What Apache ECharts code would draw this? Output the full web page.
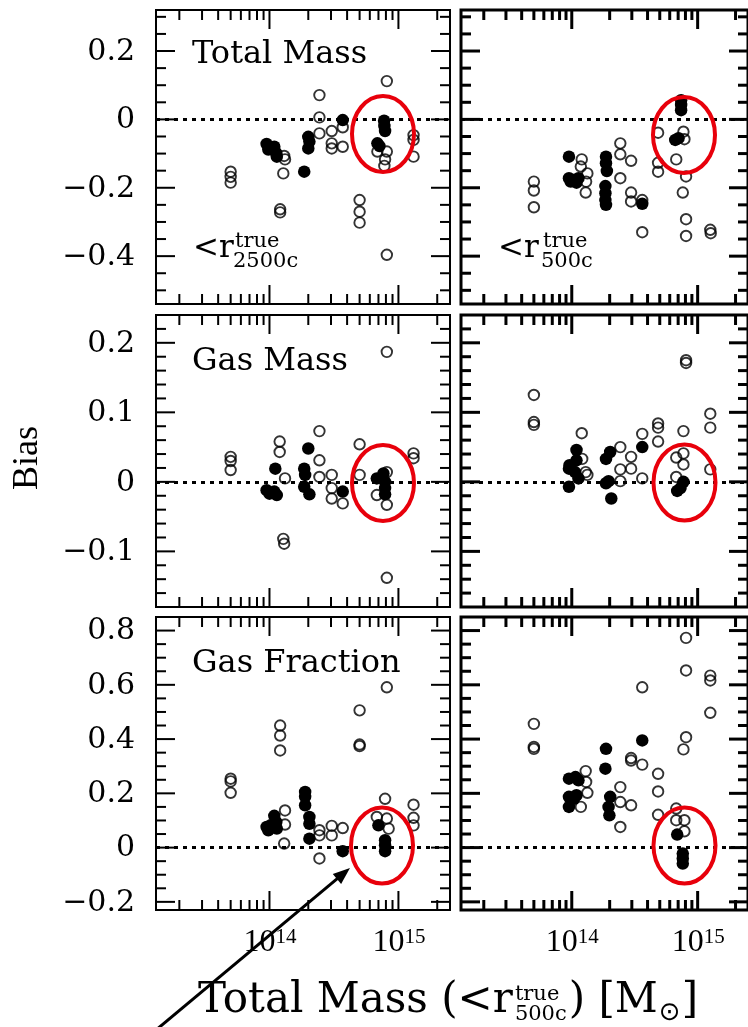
<!DOCTYPE html>
<html><head><meta charset="utf-8">
<script src="https://cdn.jsdelivr.net/npm/echarts/dist/echarts.min.js"></script>
<style>html,body{margin:0;padding:0;background:#fff}#c{width:748px;height:1027px}</style>
</head><body><div id="c"></div>
<script>
// ---------------- DATA (mass [Msun], bias) ----------------
// Total mass bias, < r2500c
const tmInnerOpen = [
  [5.0e13,-0.153],[5.0e13,-0.168],[5.0e13,-0.185],
  [1.30e14,-0.107],[1.32e14,-0.117],[1.28e14,-0.158],
  [1.21e14,-0.263],[1.21e14,-0.272],
  [2.44e14,0.071],[2.44e14,0.006],[2.44e14,-0.041],
  [3.04e14,-0.034],[3.04e14,-0.070],[3.04e14,-0.085],
  [3.70e14,-0.023],[3.70e14,-0.080],
  [5.0e14,-0.236],[5.0e14,-0.270],[5.0e14,-0.302],
  [8.13e14,0.112],[6.87e14,-0.094],[8.13e14,-0.094],[7.88e14,-0.117],[7.78e14,-0.136],[8.13e14,-0.396],
  [1.31e15,-0.046],[1.31e15,-0.060],[1.31e15,-0.109]
];
const tmInnerFilled = [
  [9.5e13,-0.072],[9.8e13,-0.088],[1.09e14,-0.080],[1.13e14,-0.099],[1.14e14,-0.109],
  [1.86e14,-0.153],[2.0e14,-0.051],[2.04e14,-0.065],[2.0e14,-0.085],
  [3.70e14,-0.002],
  [7.74e14,-0.004],[7.78e14,-0.019],[7.88e14,-0.034],[6.87e14,-0.070],[7.13e14,-0.078]
];
// Total mass bias, < r500c
const tmOuterOpen = [
  [5.0e13,-0.182],[5.0e13,-0.208],[5.0e13,-0.257],
  [1.20e14,-0.117],[1.18e14,-0.138],[1.33e14,-0.158],[1.30e14,-0.182],[1.29e14,-0.214],
  [2.43e14,-0.070],[2.43e14,-0.102],[2.43e14,-0.172],[2.96e14,-0.121],[2.96e14,-0.214],[2.96e14,-0.240],
  [3.63e14,-0.236],[3.63e14,-0.330],
  [4.85e14,-0.039],[4.85e14,-0.127],[4.85e14,-0.153],
  [7.71e14,-0.036],[7.85e14,-0.058],[6.76e14,-0.117],[8.09e14,-0.167],[7.62e14,-0.214],[8.09e14,-0.292],[8.09e14,-0.341],
  [1.26e15,-0.323],[1.27e15,-0.333]
];
const tmOuterFilled = [
  [9.5e13,-0.109],[9.5e13,-0.172],[9.8e13,-0.182],[1.04e14,-0.177],[1.09e14,-0.185],[1.13e14,-0.172],
  [1.87e14,-0.109],[1.87e14,-0.128],[1.90e14,-0.151],[1.85e14,-0.195],[1.85e14,-0.216],[1.85e14,-0.236],[1.87e14,-0.250],
  [3.63e14,-0.247],
  [7.39e14,0.056],[7.39e14,0.042],[7.39e14,0.027],[6.64e14,-0.060],[7.05e14,-0.055]
];
// Gas mass bias, < r2500c
const gmInnerOpen = [
  [5.0e13,0.036],[5.0e13,0.030],[5.0e13,0.017],
  [1.20e14,0.058],[1.20e14,0.043],[1.32e14,0.005],[1.28e14,-0.082],[1.30e14,-0.089],
  [2.44e14,0.073],[2.44e14,0.031],[2.44e14,0.007],[3.04e14,0.010],[3.04e14,-0.009],[3.04e14,-0.024],[3.70e14,-0.031],
  [5.0e14,0.054],[5.0e14,0.010],
  [8.13e14,0.014],[6.8e14,-0.019],[8.13e14,-0.033],[8.13e14,0.187],[8.13e14,-0.138],
  [1.31e15,0.041],[1.31e15,0.034]
];
const gmInnerFilled = [
  [9.5e13,-0.012],[1.0e14,-0.017],[1.09e14,-0.014],[1.14e14,-0.019],[1.11e14,0.019],
  [2.0e14,0.048],[1.86e14,0.019],[1.89e14,0.010],[1.86e14,-0.007],[2.04e14,-0.018],
  [3.70e14,-0.014],
  [6.8e14,0.005],[7.65e14,0.012],[7.88e14,0.0],[7.88e14,-0.009],[7.88e14,-0.018]
];
// Gas mass bias, < r500c
const gmOuterOpen = [
  [5.0e13,0.125],[5.0e13,0.086],[5.0e13,0.082],
  [1.20e14,0.070],[1.21e14,0.033],[1.29e14,0.014],[1.33e14,0.010],
  [2.43e14,0.050],[2.43e14,0.018],[2.43e14,0.001],[2.96e14,0.036],[2.96e14,0.019],
  [3.63e14,0.069],[3.63e14,0.005],
  [4.85e14,0.084],[4.85e14,0.078],[4.85e14,0.058],
  [6.76e14,0.035],[7.71e14,0.041],[7.71e14,0.025],[6.76e14,0.007],[7.71e14,0.073],[8.09e14,0.175],[8.09e14,0.171],
  [1.26e15,0.098],[1.26e15,0.078],[1.26e15,0.018]
];
const gmOuterFilled = [
  [9.5e13,-0.007],[9.6e13,0.024],[9.5e13,0.019],[1.09e14,0.046],[1.06e14,0.014],[1.13e14,0.005],[1.09e14,0.031],
  [2.02e14,0.043],[1.87e14,0.033],[1.96e14,0.001],[1.87e14,-0.002],[2.06e14,-0.024],
  [3.63e14,0.050],
  [6.88e14,-0.013],[7.31e14,-0.009],[7.71e14,0.0]
];
// Gas fraction bias, < r2500c
const gfInnerOpen = [
  [5.0e13,0.254],[5.0e13,0.244],[5.0e13,0.202],
  [1.21e14,0.450],[1.21e14,0.413],[1.21e14,0.358],[1.32e14,0.137],[1.32e14,0.085],[1.30e14,0.015],
  [2.44e14,0.064],[2.44e14,0.045],[2.44e14,-0.040],[3.04e14,0.080],[3.04e14,0.045],[3.70e14,0.072],
  [5.0e14,0.506],[5.0e14,0.380],[5.0e14,0.374],
  [8.13e14,0.591],[7.88e14,0.180],[6.8e14,0.113],[8.13e14,0.107],[8.4e14,0.070],
  [1.31e15,0.158],[1.31e15,0.110],[1.31e15,0.082]
];
const gfInnerFilled = [
  [9.5e13,0.076],[1.02e14,0.082],[1.09e14,0.117],[1.13e14,0.094],[1.14e14,0.070],[9.8e13,0.064],
  [1.89e14,0.205],[1.89e14,0.187],[1.89e14,0.156],[2.04e14,0.113],[2.04e14,0.088],[2.04e14,0.033],
  [3.70e14,-0.013],
  [7.0e14,0.082],[7.88e14,0.027],[7.88e14,0.009],[7.88e14,-0.013]
];
// Gas fraction bias, < r500c
const gfOuterOpen = [
  [5.0e13,0.456],[5.0e13,0.371],[5.0e13,0.364],
  [1.29e14,0.282],[1.30e14,0.242],[1.33e14,0.202],[1.18e14,0.150],
  [2.43e14,0.223],[2.43e14,0.168],[2.43e14,0.076],[2.96e14,0.330],[2.96e14,0.321],[2.96e14,0.156],[3.63e14,0.306],
  [3.63e14,0.591],
  [4.85e14,0.272],[4.85e14,0.207],[4.85e14,0.121],
  [8.09e14,0.773],[8.09e14,0.653],[8.09e14,0.407],[7.71e14,0.362],[6.76e14,0.144],[6.76e14,0.101],[7.85e14,0.101],[7.85e14,0.060],
  [1.26e15,0.634],[1.26e15,0.616],[1.26e15,0.497]
];
const gfOuterFilled = [
  [9.5e13,0.254],[1.07e14,0.260],[1.13e14,0.248],[9.5e13,0.187],[1.09e14,0.193],[9.5e13,0.150],[1.04e14,0.180],
  [1.87e14,0.364],[1.85e14,0.291],[2.02e14,0.187],[1.96e14,0.150],[1.99e14,0.119],
  [3.63e14,0.395],
  [6.88e14,0.048],[7.62e14,-0.022],[7.62e14,-0.040],[7.62e14,-0.059]
];

// ---------------- TICKS & LABELS ----------------
const xMajorTicks = [1e14, 1e15];
const xMinorTicks = [2e13,3e13,4e13,5e13,6e13,7e13,8e13,9e13,2e14,3e14,4e14,5e14,6e14,7e14,8e14,9e14,2e15];
const xLabelExp = ['14', '15'];
const tmMajorY = [-0.4,-0.2,0,0.2];
const tmMinorY = [-0.5,-0.45,-0.35,-0.3,-0.25,-0.15,-0.1,-0.05,0.05,0.1,0.15,0.25,0.3];
const tmLabels = ['\u22120.4','\u22120.2','0','0.2'];
const gmMajorY = [-0.1,0,0.1,0.2];
const gmMinorY = [-0.16,-0.14,-0.12,-0.08,-0.06,-0.04,-0.02,0.02,0.04,0.06,0.08,0.12,0.14,0.16,0.18,0.22];
const gmLabels = ['\u22120.1','0','0.1','0.2'];
const gfMajorY = [-0.2,0,0.2,0.4,0.6,0.8];
const gfMinorY = [-0.15,-0.1,-0.05,0.05,0.1,0.15,0.25,0.3,0.35,0.45,0.5,0.55,0.65,0.7,0.75];
const gfLabels = ['\u22120.2','0','0.2','0.4','0.6','0.8'];
const panelTitles = ['Total Mass', 'Gas Mass', 'Gas Fraction'];

// ---------------- LAYOUT ----------------
const XMIN = Math.pow(10, 13.12), XMAX = Math.pow(10, 15.40);
const rows = [
  {min:-0.54, max:0.32, major:tmMajorY, minor:tmMinorY, labels:tmLabels, top:10, height:294},
  {min:-0.18, max:0.24, major:gmMajorY, minor:gmMinorY, labels:gmLabels, top:315, height:292},
  {min:-0.23, max:0.85, major:gfMajorY, minor:gfMinorY, labels:gfLabels, top:617, height:293}
];
const cols = [{left:156, width:294, lw:2}, {left:461, width:292, lw:3}];
const panels = [
  {open:tmInnerOpen, filled:tmInnerFilled}, {open:tmOuterOpen, filled:tmOuterFilled},
  {open:gmInnerOpen, filled:gmInnerFilled}, {open:gmOuterOpen, filled:gmOuterFilled},
  {open:gfInnerOpen, filled:gfInnerFilled}, {open:gfOuterOpen, filled:gfOuterFilled}
];

const grid = [], xAxis = [], yAxis = [], series = [];
panels.forEach((p, g) => {
  const r = Math.floor(g / 2), c = g % 2;
  const row = rows[r], col = cols[c];
  grid.push({left:col.left, top:row.top, width:col.width, height:row.height, show:true,
    borderColor:'#000', borderWidth:col.lw, backgroundColor:'transparent', containLabel:false});
  xAxis.push({type:'log', logBase:10, gridIndex:g, min:XMIN, max:XMAX, show:false});
  yAxis.push({type:'value', gridIndex:g, min:row.min, max:row.max, show:false});
  series.push({type:'scatter', xAxisIndex:g, yAxisIndex:g, data:p.open, symbol:'circle', symbolSize:10.5,
    itemStyle:{color:'rgba(255,255,255,0)', borderColor:'#000', borderWidth:1.9}, silent:true, z:3,
    markLine:{silent:true, symbol:['none','none'], label:{show:false}, animation:false,
      lineStyle:{color:'#000', type:[4,5], width:3}, data:[{yAxis:0}]}});
  series.push({type:'scatter', xAxisIndex:g, yAxisIndex:g, data:p.filled, symbol:'circle', symbolSize:12.5,
    itemStyle:{color:'#000', borderColor:'#000', borderWidth:0, opacity:1}, silent:true, z:4});
  // ticks + labels: [x, y, kind, labelIndex]
  const tickData = [];
  xMinorTicks.forEach(v => tickData.push([v, 0, 0, 0]));
  xMajorTicks.forEach(v => tickData.push([v, 0, 1, 0]));
  row.minor.forEach(v => tickData.push([1e14, v, 2, 0]));
  row.major.forEach(v => tickData.push([1e14, v, 3, 0]));
  if (c === 0) row.major.forEach((v, i) => tickData.push([1e14, v, 4, i]));
  if (r === 2) xMajorTicks.forEach((v, i) => tickData.push([v, 0, 5, i]));
  series.push({type:'custom', xAxisIndex:g, yAxisIndex:g, data:tickData, silent:true, z:5, clip:false,
    dimensions:['x','y','kind','idx'], encode:{x:0, y:1},
    renderItem: makeRenderer(row, col.lw)});
});

function makeRenderer(row, lw) {
  return function(params, api) {
    const cs = params.coordSys;
    const k = api.value(2);
    const idx = api.value(3);
    const st = {stroke:'#000', lineWidth:lw};
    if (k === 0 || k === 1) {
      const px = api.coord([api.value(0), 0])[0];
      const len = k === 1 ? 19 : 10;
      const b = cs.y + cs.height, t = cs.y;
      return {type:'group', children:[
        {type:'line', shape:{x1:px, y1:b, x2:px, y2:b - len}, style:st},
        {type:'line', shape:{x1:px, y1:t, x2:px, y2:t + len}, style:st}]};
    }
    if (k === 2 || k === 3) {
      const py = api.coord([1e14, api.value(1)])[1];
      const len = k === 3 ? 19 : 10;
      const l = cs.x, rr = cs.x + cs.width;
      return {type:'group', children:[
        {type:'line', shape:{x1:l, y1:py, x2:l + len, y2:py}, style:st},
        {type:'line', shape:{x1:rr, y1:py, x2:rr - len, y2:py}, style:st}]};
    }
    if (k === 4) {
      const py = api.coord([1e14, api.value(1)])[1];
      return {type:'text', x:cs.x - 21, y:py + 1, style:{text:row.labels[idx],
        font:"30px 'DejaVu Serif'", fill:'#000', align:'right', verticalAlign:'middle'}};
    }
    if (k === 5) {
      const px = api.coord([api.value(0), 0])[0];
      const y = cs.y + cs.height;
      return {type:'group', children:[
        {type:'text', x:px + 6, y:y + 33, style:{text:'10', font:"32px 'Liberation Serif'", fill:'#000', align:'right', verticalAlign:'middle'}},
        {type:'text', x:px + 6, y:y + 27, style:{text:xLabelExp[idx], font:"21px 'Liberation Serif'", fill:'#000', align:'left', verticalAlign:'middle'}}]};
    }
    return null;
  };
}

// ---------------- ANNOTATIONS ----------------
const ctx = document.createElement('canvas').getContext('2d');
function tw(t, f) { ctx.font = f; return ctx.measureText(t).width; }
const graphic = [];
function txt(x, y, t, font, extra) {
  graphic.push(Object.assign({type:'text', x:x, y:y, z:100, silent:true,
    style:{text:t, font:font, fill:'#000', align:'left', verticalAlign:'middle'}}, extra || {}));
}
const PF = "32px 'DejaVu Serif'";
txt(192, 55, panelTitles[0], PF);
txt(192, 362, panelTitles[1], PF);
txt(192, 664, panelTitles[2], PF);
const RF = "31px 'DejaVu Serif'", SF = "21px 'DejaVu Serif'";
txt(193, 249, '<r', RF); txt(235, 242, 'true', SF); txt(233, 262, '2500c', SF);
txt(498, 249, '<r', RF); txt(543, 242, 'true', SF); txt(541, 262, '500c', SF);
graphic.push({type:'text', x:28, y:458, rotation:Math.PI / 2, z:100, silent:true,
  style:{text:'Bias', font:"36px 'Liberation Serif'", fill:'#000', align:'center', verticalAlign:'middle'}});

// x-axis title
(function () {
  const BF = "42px 'DejaVu Serif'", SS = "21px 'DejaVu Serif'", SUN = "26px 'DejaVu Sans'";
  const p1 = 'Total Mass (<r', p3 = ') [M', p5 = ']';
  const w1 = tw(p1, BF), ws = Math.max(tw('true', SS), tw('500c', SS)), w3 = tw(p3, BF), wsun = tw('\u2299', SUN), w5 = tw(p5, BF);
  const W = w1 + 2 + ws + 2 + w3 + 1 + wsun + 1 + w5;
  let x = 448 - W / 2;
  txt(x, 1001, p1, BF); x += w1 + 2;
  txt(x, 995, 'true', SS); txt(x, 1015, '500c', SS); x += ws + 2;
  txt(x, 1001, p3, BF); x += w3 + 1;
  txt(x, 1013, '\u2299', SUN); x += wsun + 1;
  txt(x, 1001, p5, BF);
})();

// red ellipses
[[383,134],[684,135],[383,483],[684.5,482.5],[382,845.5],[684.5,845.5]].forEach(e => {
  graphic.push({type:'ellipse', z:100, silent:true, shape:{cx:e[0], cy:e[1], rx:31, ry:38},
    style:{stroke:'#e8000b', lineWidth:4, fill:'none'}});
});

// arrow
(function () {
  const tip = [350, 868], tail = [156, 1030];
  const dx = tip[0] - tail[0], dy = tip[1] - tail[1], L = Math.hypot(dx, dy);
  const ux = dx / L, uy = dy / L, nx = -uy, ny = ux;
  const hl = 17, hw = 6.5;
  const bx = tip[0] - hl * ux, by = tip[1] - hl * uy;
  graphic.push({type:'line', z:101, silent:true, shape:{x1:tail[0], y1:tail[1], x2:bx + 2 * ux, y2:by + 2 * uy},
    style:{stroke:'#000', lineWidth:3}});
  graphic.push({type:'polygon', z:101, silent:true,
    shape:{points:[tip, [bx + hw * nx, by + hw * ny], [bx - hw * nx, by - hw * ny]]}, style:{fill:'#000'}});
})();

const chart = echarts.init(document.getElementById('c'), null, {renderer:'canvas'});
chart.setOption({animation:false, backgroundColor:'#fff', grid, xAxis, yAxis, series, graphic});
</script></body></html>
